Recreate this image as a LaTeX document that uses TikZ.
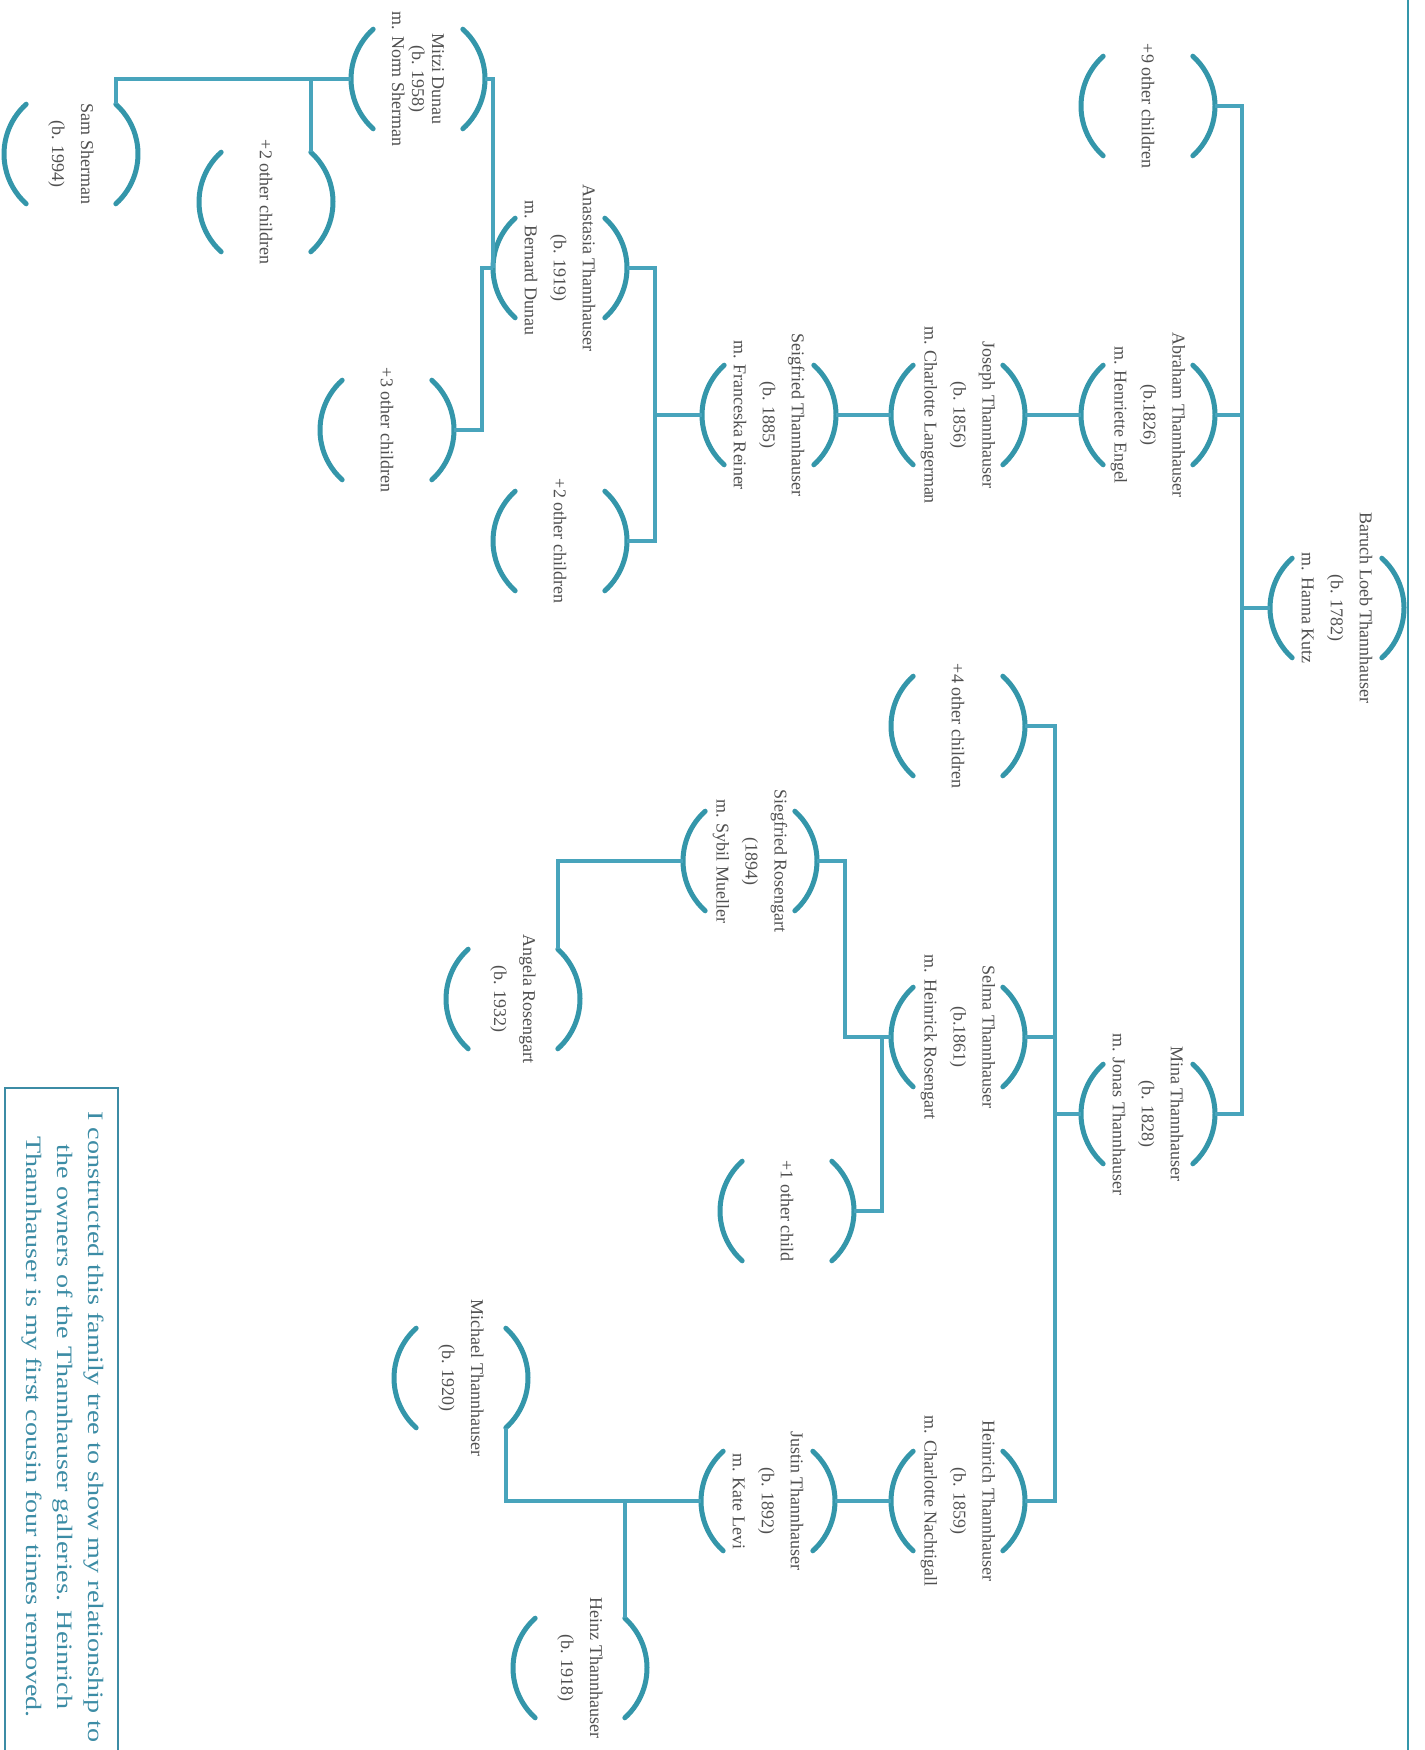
\documentclass[tikz,border=0pt]{standalone}
\usepackage{fontspec}
\setmainfont{Liberation Serif}
\definecolor{arccol}{RGB}{52,150,170}
\definecolor{linecol}{RGB}{72,164,188}
\definecolor{txtgray}{RGB}{80,80,80}
\definecolor{captcol}{RGB}{60,140,165}
\begin{document}
\begin{tikzpicture}[x=1pt,y=1pt,
  person/.style={circle, minimum size=134pt, inner sep=0pt, outer sep=0pt},
  txt/.style={rotate=-90, align=center, text=txtgray, inner sep=0pt, font=\fontsize{18}{29}\selectfont},
  tighttxt/.style={txt, font=\fontsize{18}{20}\selectfont},
  conn/.style={draw=linecol, line width=4pt},
  parc/.style={draw=arccol, line width=5pt, line cap=round},
  capbox/.style={draw=captcol, line width=2.5pt},
  captxt/.style={rotate=-90, inner sep=0pt, text=captcol, font=\fontsize{22}{31}\selectfont}]
\useasboundingbox[fill=white] (0,0) rectangle (1424,-1750);

% persons
\node[person, label={[txt]center:{Baruch Loeb Thannhauser\\(b. 1782)\\m. Hanna Kutz}}] (baruch) at (1337,-608) {};
\node[person, label={[txt]center:{+9 other children}}] (nine) at (1148,-106) {};
\node[person, label={[txt]center:{Abraham Thannhauser\\(b.1826)\\m. Henriette Engel}}] (abraham) at (1148,-415) {};
\node[person, label={[txt]center:{Mina Thannhauser\\(b. 1828)\\m. Jonas Thannhauser}}] (mina) at (1148,-1114) {};
\node[person, label={[txt]center:{Joseph Thannhauser\\(b. 1856)\\m. Charlotte Langerman}}] (joseph) at (958,-415) {};
\node[person, label={[txt]center:{+4 other children}}] (four) at (958,-726) {};
\node[person, label={[txt]center:{Selma Thannhauser\\(b.1861)\\m. Heinrick Rosengart}}] (selma) at (958,-1037) {};
\node[person, label={[txt]center:{Heinrich Thannhauser\\(b. 1859)\\m. Charlotte Nachtigall}}] (heinrich) at (958,-1501) {};
\node[person, label={[txt]center:{Seigfried Thannhauser\\(b. 1885)\\m. Franceska Reiner}}] (seig) at (769,-415) {};
\node[person, label={[txt]center:{Siegfried Rosengart\\(1894)\\m. Sybil Mueller}}] (sr) at (750,-861) {};
\node[person, label={[txt]center:{+1 other child}}] (plusone) at (787,-1211) {};
\node[person, label={[txt]center:{Justin Thannhauser\\(b. 1892)\\m. Kate Levi}}] (justin) at (768,-1501) {};
\node[person, label={[txt]center:{Anastasia Thannhauser\\(b. 1919)\\m. Bernard Dunau}}] (anast) at (560,-268) {};
\node[person, label={[txt]center:{+2 other children}}] (twob) at (560,-541) {};
\node[person, label={[tighttxt]center:{Mitzi Dunau\\(b. 1958)\\m. Norm Sherman}}] (mitzi) at (418,-79) {};
\node[person, label={[txt]center:{+3 other children}}] (three) at (387,-430) {};
\node[person, label={[txt]center:{+2 other children}}] (twoa) at (266,-202) {};
\node[person, label={[txt]center:{Sam Sherman\\(b. 1994)}}] (sam) at (71,-154) {};
\node[person, label={[txt]center:{Angela Rosengart\\(b. 1932)}}] (angela) at (513,-999) {};
\node[person, label={[txt]center:{Michael Thannhauser\\(b. 1920)}}] (michael) at (461,-1378) {};
\node[person, label={[txt]center:{Heinz Thannhauser\\(b. 1918)}}] (heinz) at (580,-1668) {};

% bracket arcs
\foreach \n in {baruch,nine,abraham,mina,joseph,four,selma,heinrich,seig,sr,plusone,justin,anast,twob,mitzi,three,twoa,sam,angela,michael,heinz}{
  \draw[parc] (\n.-48) arc[start angle=-48, end angle=48, radius=67pt];
  \draw[parc] (\n.132) arc[start angle=132, end angle=228, radius=67pt];
}

% bus coordinates
\coordinate (busa) at (1242,0);
\coordinate (busb) at (1055,0);
\coordinate (busc) at (655,0);
\coordinate (busd) at (482,0);
\coordinate (buse) at (845,0);
\coordinate (busf) at (882,0);

% connectors
\draw[conn] (nine.east) -- (nine.east -| busa) -- (mina.east -| busa) -- (mina.east);
\draw[conn] (abraham.east) -- (abraham.east -| busa);
\draw[conn] (baruch.west) -- (baruch.west -| busa);

\draw[conn] (abraham.west) -- (joseph.east);
\draw[conn] (joseph.west) -- (seig.east);

\draw[conn] (mina.west) -- (mina.west -| busb);
\draw[conn] (four.east) -- (four.east -| busb) -- (heinrich.east -| busb) -- (heinrich.east);
\draw[conn] (selma.east) -- (selma.east -| busb);

\draw[conn] (selma.west) -- (selma.west -| buse) -- (sr.east -| buse) -- (sr.east);
\draw[conn] (selma.west -| busf) -- (plusone.east -| busf) -- (plusone.east);
\draw[conn] (sr.west) -- (sr.west -| angela.48) -- (angela.48);

\draw[conn] (heinrich.west) -- (justin.east);
\draw[conn] (justin.west) -- (justin.west -| michael.-48) -- (michael.-48);
\draw[conn] (justin.west -| heinz.48) -- (heinz.48);

\draw[conn] (seig.west) -- (seig.west -| busc);
\draw[conn] (anast.east) -- (anast.east -| busc) -- (twob.east -| busc) -- (twob.east);

\draw[conn] (mitzi.east) -- (mitzi.east -| anast.west) -- (anast.west);
\draw[conn] (anast.west) -- (anast.west -| busd) -- (three.east -| busd) -- (three.east);

\draw[conn] (mitzi.west) -- (mitzi.west -| sam.48) -- (sam.48);
\draw[conn] (mitzi.west -| twoa.48) -- (twoa.48);

% page edge line
\draw[draw=arccol, line width=2pt] (1408,0) -- (1408,-1750);

% caption
\draw[capbox] (5,-1088) rectangle (118,-1770);
\node[captxt] (caption) at (64,-1427) {\scalebox{1.28}[1]{\begin{tabular}{@{}c@{}}I constructed this family tree to show my relationship to\\the owners of the Thannhauser galleries. Heinrich\\Thannhauser is my first cousin four times removed.\end{tabular}}};
\end{tikzpicture}
\end{document}
